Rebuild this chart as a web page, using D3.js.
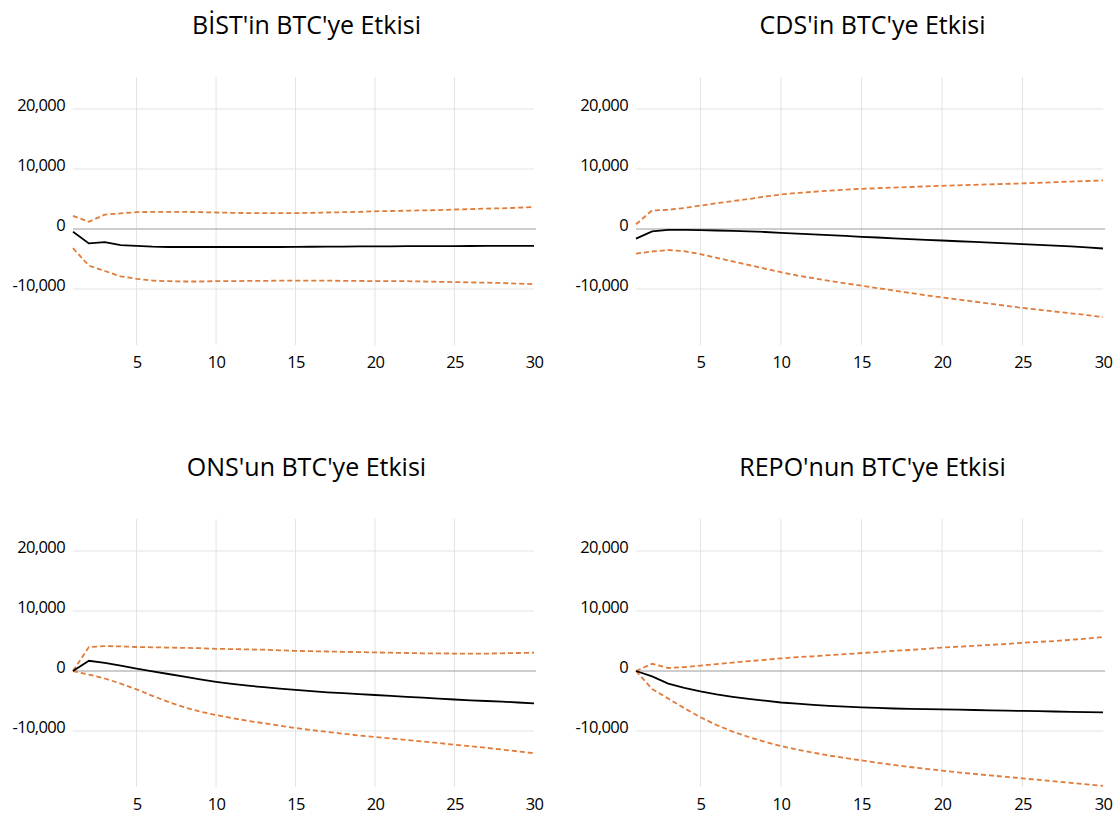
<!DOCTYPE html>
<html>
<head>
<meta charset="utf-8">
<script src="https://cdn.jsdelivr.net/npm/d3@7"></script>
<style>
  body { margin: 0; background: #fff; }
  svg { display: block; }
  text { font-family: "Open Sans", sans-serif; fill: #000; }
</style>
</head>
<body>
<div id="chart"></div>
<script>
const periods = [1, 2, 3, 4, 5, 6, 7, 8, 9, 10, 11, 12, 13, 14, 15, 16, 17, 18, 19, 20, 21, 22, 23, 24, 25, 26, 27, 28, 29, 30];
const xTicks = [5, 10, 15, 20, 25, 30];
const xGrid = [5, 10, 15, 20, 25];
const yTicks = [-10000, 0, 10000, 20000];

const titles = ["BİST'in BTC'ye Etkisi", "CDS'in BTC'ye Etkisi", "ONS'un BTC'ye Etkisi", "REPO'nun BTC'ye Etkisi"];

// response + confidence bands
const bistMain  = [-450, -2400, -2200, -2700, -2800, -2950, -3000, -3000, -3000, -3000, -3000, -3000, -3000, -3000, -2980, -2960, -2950, -2930, -2910, -2900, -2890, -2870, -2860, -2850, -2840, -2830, -2820, -2810, -2800, -2800];
const bistUpper = [2200, 1200, 2400, 2600, 2800, 2850, 2850, 2850, 2800, 2750, 2700, 2650, 2650, 2650, 2650, 2700, 2750, 2800, 2850, 2950, 3000, 3050, 3100, 3150, 3250, 3300, 3400, 3450, 3550, 3650];
const bistLower = [-3200, -6100, -7000, -7900, -8300, -8600, -8700, -8750, -8750, -8700, -8700, -8650, -8650, -8600, -8600, -8600, -8600, -8650, -8650, -8700, -8700, -8700, -8750, -8800, -8850, -8900, -8950, -9000, -9100, -9200];

const cdsMain  = [-1600, -400, -150, -150, -200, -250, -320, -400, -500, -650, -780, -900, -1030, -1160, -1300, -1420, -1550, -1680, -1800, -1920, -2040, -2160, -2280, -2400, -2520, -2640, -2760, -2880, -3050, -3250];
const cdsUpper = [800, 3100, 3200, 3500, 3900, 4300, 4650, 5000, 5400, 5750, 6000, 6200, 6400, 6550, 6700, 6800, 6900, 7000, 7100, 7200, 7280, 7360, 7440, 7520, 7600, 7700, 7800, 7900, 8000, 8100];
const cdsLower = [-4100, -3750, -3500, -3700, -4200, -4800, -5400, -6000, -6600, -7200, -7750, -8200, -8650, -9050, -9450, -9850, -10250, -10650, -11050, -11400, -11750, -12100, -12450, -12800, -13150, -13450, -13750, -14050, -14350, -14700];

const onsMain  = [0, 1700, 1350, 900, 400, -50, -500, -950, -1400, -1800, -2150, -2450, -2700, -2950, -3150, -3350, -3550, -3700, -3850, -4000, -4150, -4300, -4450, -4600, -4750, -4900, -5000, -5100, -5250, -5400];
const onsUpper = [0, 4000, 4150, 4100, 4000, 3950, 3900, 3850, 3800, 3700, 3650, 3600, 3550, 3450, 3350, 3300, 3250, 3200, 3150, 3100, 3050, 3000, 2950, 2950, 2900, 2900, 2900, 2950, 3000, 3050];
const onsLower = [0, -600, -1250, -2100, -3050, -4150, -5150, -6050, -6750, -7350, -7850, -8300, -8700, -9100, -9500, -9850, -10150, -10450, -10750, -11000, -11250, -11500, -11750, -12000, -12300, -12550, -12800, -13100, -13400, -13700];

const repoMain  = [0, -900, -2100, -2800, -3400, -3900, -4300, -4650, -4950, -5250, -5450, -5650, -5800, -5950, -6050, -6150, -6250, -6300, -6350, -6400, -6450, -6500, -6550, -6600, -6650, -6700, -6750, -6800, -6850, -6900];
const repoUpper = [0, 1200, 500, 650, 900, 1150, 1400, 1650, 1850, 2100, 2300, 2450, 2650, 2800, 3000, 3150, 3350, 3500, 3700, 3900, 4050, 4200, 4350, 4500, 4700, 4850, 5000, 5200, 5400, 5650];
const repoLower = [0, -3000, -4600, -6200, -7700, -9000, -10100, -11000, -11800, -12500, -13100, -13600, -14100, -14500, -14900, -15300, -15650, -16000, -16300, -16600, -16900, -17150, -17400, -17650, -17900, -18150, -18400, -18650, -18900, -19150];

const panels = [
    { title: titles[0], main: bistMain, upper: bistUpper, lower: bistLower, col: 0, row: 0 },
    { title: titles[1], main: cdsMain,  upper: cdsUpper,  lower: cdsLower,  col: 1, row: 0 },
    { title: titles[2], main: onsMain,  upper: onsUpper,  lower: onsLower,  col: 0, row: 1 },
    { title: titles[3], main: repoMain, upper: repoUpper, lower: repoLower, col: 1, row: 1 }
];

const width = 1113, height = 819;
const cols = [{ left: 73, right: 534 }, { left: 636, right: 1103 }];
const rows = [{ top: 77, bottom: 345, titleY: 34 }, { top: 519, bottom: 787, titleY: 476 }];

const fmt = d3.formatLocale({ decimal: ".", thousands: ",", grouping: [3], currency: ["", ""], minus: "-" }).format(",");

const svg = d3.select("#chart")
    .append("svg")
    .attr("width", width)
    .attr("height", height);

panels.forEach(p => {
    const c = cols[p.col], r = rows[p.row];
    const x = d3.scaleLinear().domain([1, 30]).range([c.left, c.right]);
    const y = d3.scaleLinear().domain([-19333, 25333]).range([r.bottom, r.top]);
    const g = svg.append("g");

    // grid
    g.append("g").selectAll("line")
        .data(yTicks.filter(d => d !== 0))
        .join("line")
        .attr("x1", c.left).attr("x2", c.right)
        .attr("y1", d => y(d)).attr("y2", d => y(d))
        .attr("stroke", "#e3e3e3");
    g.append("g").selectAll("line")
        .data(xGrid)
        .join("line")
        .attr("x1", d => x(d)).attr("x2", d => x(d))
        .attr("y1", r.top).attr("y2", r.bottom)
        .attr("stroke", "#e3e3e3");
    g.append("line")
        .attr("x1", c.left).attr("x2", c.right + 2)
        .attr("y1", y(0)).attr("y2", y(0))
        .attr("stroke", "#bdbdbd")
        .attr("stroke-width", 1.5);

    // axes
    const yAxisG = g.append("g")
        .attr("transform", `translate(${c.left},0)`)
        .call(d3.axisLeft(y).tickValues(yTicks).tickSize(0).tickPadding(8).tickFormat(fmt));
    const xAxisG = g.append("g")
        .attr("transform", `translate(0,${r.bottom})`)
        .call(d3.axisBottom(x).tickValues(xTicks).tickSize(0).tickPadding(11));
    [yAxisG, xAxisG].forEach(a => {
        a.select(".domain").remove();
        a.attr("font-family", null).attr("font-size", null);
        a.selectAll("text")
            .attr("font-size", "16.5px")
            .attr("letter-spacing", "-0.6px")
            .attr("fill", "#000");
    });
    yAxisG.selectAll("text").attr("dy", "0.12em");

    // series
    const line = d3.line()
        .x((d, i) => x(periods[i]))
        .y(d => y(d));
    [p.upper, p.lower].forEach(band => {
        g.append("path")
            .datum(band)
            .attr("d", line)
            .attr("fill", "none")
            .attr("stroke", "#e07b39")
            .attr("stroke-width", 1.8)
            .attr("stroke-dasharray", "5,3");
    });
    g.append("path")
        .datum(p.main)
        .attr("d", line)
        .attr("fill", "none")
        .attr("stroke", "#000")
        .attr("stroke-width", 1.8);

    g.append("text")
        .attr("x", (c.left + c.right) / 2 + 3)
        .attr("y", r.titleY)
        .attr("text-anchor", "middle")
        .attr("font-size", "25px")
        .text(p.title);
});
</script>
</body>
</html>
